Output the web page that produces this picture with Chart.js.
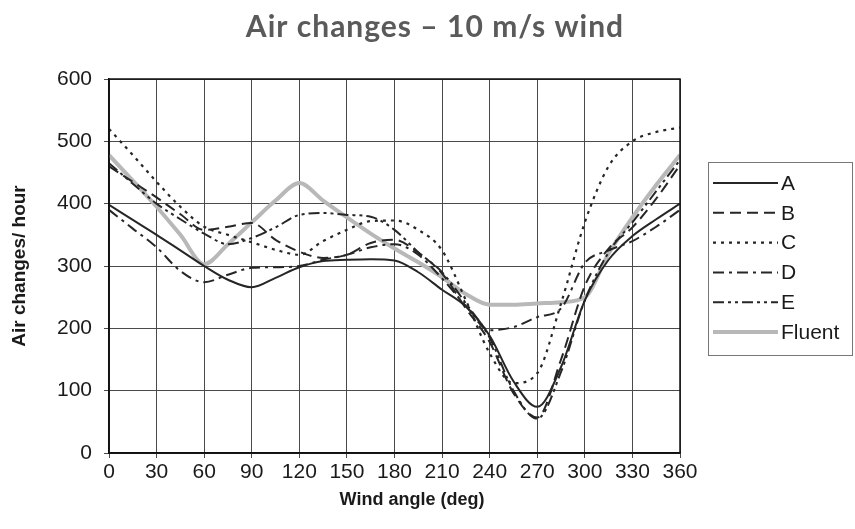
<!DOCTYPE html>
<html>
<head>
<meta charset="utf-8">
<script src="https://cdn.jsdelivr.net/npm/chart.js@4.4.1/dist/chart.umd.min.js"></script>
<style>
  html, body { margin: 0; padding: 0; background: #fff; }
  #wrap { width: 855px; height: 529px; }
</style>
</head>
<body>
<div id="wrap"><canvas id="chart"></canvas></div>
<script>
// wind angles (deg) and air changes per hour for each case
const angles = [0, 15, 30, 45, 60, 75, 90, 105, 120, 135, 150, 165, 180, 195, 210, 225, 240, 255, 270, 285, 300, 315, 330, 345, 360];
const seriesA = [398, 374, 350, 325, 300, 278, 266, 281, 298, 308, 310, 311, 309, 290, 262, 235, 188, 115, 74, 138, 245, 310, 348, 375, 400];
const seriesB = [460, 435, 410, 383, 358, 363, 369, 342, 323, 313, 318, 337, 342, 321, 288, 232, 178, 96, 57, 150, 268, 328, 362, 408, 462];
const seriesC = [520, 478, 435, 395, 363, 350, 338, 326, 318, 340, 358, 372, 373, 358, 325, 245, 160, 112, 128, 240, 370, 460, 500, 515, 522];
const seriesD = [390, 360, 330, 292, 274, 286, 297, 298, 300, 310, 318, 330, 335, 318, 280, 236, 197, 202, 218, 232, 305, 325, 340, 363, 390];
const seriesE = [465, 432, 400, 375, 352, 335, 345, 362, 382, 385, 382, 379, 358, 322, 290, 240, 185, 100, 55, 130, 245, 322, 370, 420, 470];
const seriesFluent = [478, 437, 395, 350, 303, 335, 370, 405, 433, 405, 378, 352, 328, 306, 282, 255, 238, 238, 240, 242, 250, 320, 378, 430, 478];

const xTicks = [0, 30, 60, 90, 120, 150, 180, 210, 240, 270, 300, 330, 360];
const yTicks = [0, 100, 200, 300, 400, 500, 600];

const toPoints = (vals) => vals.map((v, i) => ({x: angles[i], y: v}));

const lineStyle = (label, vals, dash, color, width) => ({
    label: label,
    data: toPoints(vals),
    borderColor: color,
    borderWidth: width,
    borderDash: dash,
    pointRadius: 0,
    fill: false,
    cubicInterpolationMode: 'monotone'
});

const datasets = [
    lineStyle('A', seriesA, [], '#262626', 2),
    lineStyle('B', seriesB, [11, 6], '#262626', 2),
    lineStyle('C', seriesC, [3, 5], '#262626', 2.2),
    lineStyle('D', seriesD, [11, 5, 3, 5], '#262626', 2),
    lineStyle('E', seriesE, [11, 4, 3, 4, 3, 4], '#262626', 2),
    lineStyle('Fluent', seriesFluent, [], '#b8b8b8', 4)
];

// title, x axis name, plot frame and the boxed legend on the right
const extras = {
    id: 'extras',
    afterDraw(chart) {
        const ctx = chart.ctx;
        const area = chart.chartArea;
        ctx.save();

        ctx.strokeStyle = '#111';
        ctx.lineWidth = 1.5;
        ctx.setLineDash([]);
        ctx.strokeRect(area.left, area.top, area.right - area.left, area.bottom - area.top);

        ctx.fillStyle = '#5a5a5a';
        ctx.font = 'bold 30px Lato';
        ctx.letterSpacing = '1px';
        ctx.textAlign = 'center';
        ctx.textBaseline = 'middle';
        ctx.fillText('Air changes \u2013 10 m/s wind', 435, 27);
        ctx.letterSpacing = '0px';

        ctx.fillStyle = '#1a1a1a';
        ctx.font = 'bold 18px "Liberation Sans", Arial';
        ctx.fillText('Wind angle (deg)', 412, 500);

        ctx.strokeStyle = '#777';
        ctx.lineWidth = 1;
        ctx.strokeRect(708.5, 162.5, 144, 193);

        ctx.font = '21px "Liberation Sans", Arial';
        ctx.textAlign = 'left';
        chart.data.datasets.forEach((ds, i) => {
            const y = 183 + i * 29.8;
            ctx.strokeStyle = ds.borderColor;
            ctx.lineWidth = ds.borderWidth;
            ctx.setLineDash(ds.borderDash);
            ctx.beginPath();
            ctx.moveTo(713, y);
            ctx.lineTo(778, y);
            ctx.stroke();
            ctx.setLineDash([]);
            ctx.fillStyle = '#1a1a1a';
            ctx.fillText(ds.label, 781, y + 1);
        });
        ctx.restore();
    }
};

new Chart(document.getElementById('chart'), {
    type: 'line',
    data: {datasets: datasets},
    options: {
        responsive: true,
        maintainAspectRatio: false,
        animation: false,
        layout: {padding: {top: 79, right: 175, bottom: 0, left: 0}},
        plugins: {
            legend: {display: false},
            title: {display: false},
            tooltip: {enabled: false}
        },
        scales: {
            x: {
                type: 'linear',
                min: 0,
                max: 360,
                afterBuildTicks: (s) => { s.ticks = xTicks.map(v => ({value: v})); },
                afterFit: (s) => { s.height = 76; },
                grid: {color: '#4a4a4a', lineWidth: 1, tickLength: 5},
                border: {color: '#111', width: 1.5},
                ticks: {
                    color: '#1a1a1a',
                    padding: 2,
                    maxRotation: 0,
                    autoSkip: false,
                    font: {family: '"Liberation Sans", Arial', size: 21}
                },
                title: {display: false}
            },
            y: {
                min: 0,
                max: 600,
                afterBuildTicks: (s) => { s.ticks = yTicks.map(v => ({value: v})); },
                afterFit: (s) => { s.width = 109; },
                grid: {color: '#4a4a4a', lineWidth: 1, tickLength: 5},
                border: {color: '#111', width: 1.5},
                ticks: {
                    color: '#1a1a1a',
                    padding: 12,
                    font: {family: '"Liberation Sans", Arial', size: 21}
                },
                title: {
                    display: true,
                    text: 'Air changes/ hour',
                    color: '#1a1a1a',
                    padding: {top: 8, bottom: 0},
                    font: {family: '"Liberation Sans", Arial', size: 19, weight: 'bold'}
                }
            }
        }
    },
    plugins: [extras]
});
</script>
</body>
</html>
